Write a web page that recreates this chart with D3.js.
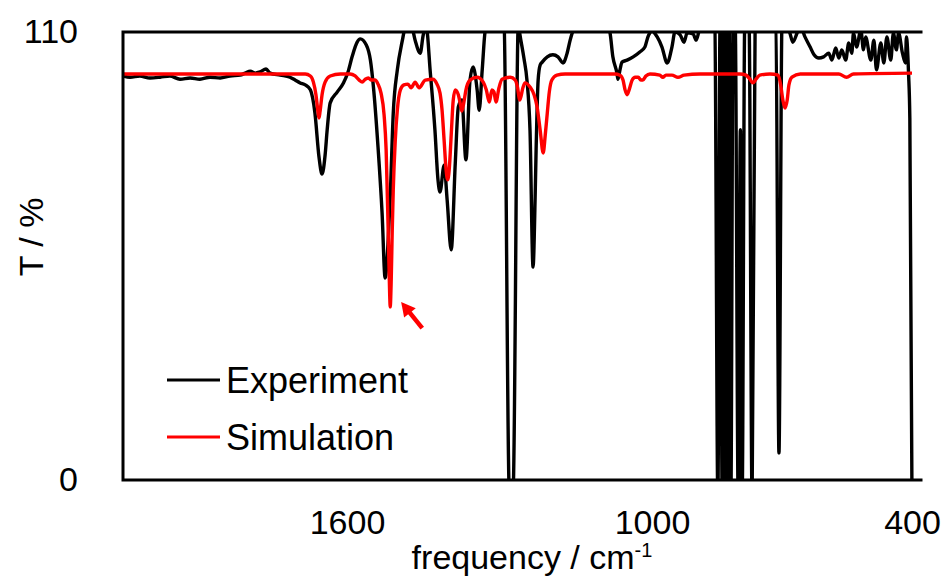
<!DOCTYPE html>
<html><head><meta charset="utf-8">
<script src="https://cdn.jsdelivr.net/npm/d3@7"></script>
<style>body{margin:0;background:#fff} svg{display:block} text{font-family:"Liberation Sans",Arial,sans-serif}</style>
</head><body><svg id="c" width="945" height="579"></svg>
<script>
// ---- data (frequency in cm-1, transmittance in %) ----
const expFreq = [2040,2026,2007,1987,1967,1948,1928,1908,1889,1869,1849,1830,1810,1800,1790,1780,1771,1759,1751,1731,1712,1702,1692,1682,1672,1663,1655,1649,1643,1639,1633,1619,1607,1598,1590,1580,1574,1562,1554,1548,1539,1531,1525,1519,1515,1509,1501,1491,1486,1476,1466,1456,1450,1444,1436,1427,1421,1417,1409,1403,1395,1387,1381,1374,1366,1358,1352,1344,1340,1334,1328,1318,1299,1291,1281,1277,1273,1263,1260,1252,1246,1240,1234,1230,1228,1224,1220,1216,1206,1195,1185,1175,1167,1161,1155,1141,1102,1083,1077,1069,1067,1063,1059,1049,1037,1024,1014,1008,1000,988,977,965,954,947,935,926,919,905,898,892,882,862,855,848,843,838,835,832,828,825,822,818,813,808,801,796,792,786,776,769,762,739,714,707,700,691,682,675,665,658,647,635,626,615,604,592,585,576,569,562,553,546,539,535,528,518,512,507,495,488,482,472,465,458,449,443,436,431,422,415,413,408,405,400];
const expT = [99.2,98.9,99.2,98.7,98.9,99.2,98.4,98.7,98.4,98.9,98.7,99.2,99.4,99.9,100.4,99.9,100.2,100.9,99.9,99.4,98.9,98.2,97.5,97.0,95.8,90.1,79.3,75.1,79.8,85.9,92.6,95.3,97.5,100.2,103.9,107.5,108.3,106.8,103.1,96.5,81.8,65.6,49.6,58.9,69.5,90.1,100.7,108.0,111,113,108.0,104.8,109.3,111,99.9,85.9,73.7,70.7,77.3,68.8,56.5,77.8,91.6,93.3,78.6,98.2,101.4,95.8,90.8,100.7,110.5,114,114,112,-2,-4,-2,112,109.5,103.6,98.2,85.9,52.3,68.8,81.0,98.2,101.9,102.6,103.9,104.4,103.9,102.4,104.8,108.0,110.5,114,114,110.0,103.9,99.9,98.4,100.7,102.6,103.1,103.9,105.1,106.3,108.8,110.2,108.8,106.3,102.4,106.3,110,109.3,107.5,109.8,109.5,108.0,110,113,113,112,-5,112,-5,112,-5,112,-5,112,-5,112,112,-5,86,-5,112,112,-5,112,113,112,6.6,112,111,109.8,107.5,109.8,111.5,108.8,106.3,104.4,103.6,103.9,104.8,103.1,106.1,103.6,105.6,103.1,107.3,104.8,109.8,106.3,110.5,105.6,108.8,103.1,108.0,100.7,107.3,102.4,108.8,103.1,109.8,105.6,109.8,104.8,102.4,108.8,99.9,88.9,-5];
const simFreq = [2040,1889,1712,1682,1672,1666,1661,1657,1655,1653,1649,1643,1633,1613,1594,1584,1576,1570,1564,1558,1552,1545,1539,1533,1527,1523,1519,1516,1515,1513,1511,1509,1505,1501,1495,1488,1480,1474,1466,1458,1446,1431,1423,1417,1413,1409,1405,1402,1399,1395,1391,1387,1381,1377,1374,1370,1366,1358,1344,1332,1326,1320,1315,1311,1307,1301,1295,1279,1269,1265,1260,1254,1250,1240,1232,1226,1220,1214,1210,1206,1202,1197,1187,1171,1102,1073,1063,1057,1053,1049,1045,1039,1033,1027,1022,1018,1012,1004,982,975,968,954,940,926,889,797,783,774,767,760,751,728,709,703,698,693,688,684,677,658,569,551,535,400];
const simT = [99.7,99.7,99.7,99.7,99.2,97.7,94.6,90.4,88.9,90.4,94.6,97.7,99.2,99.7,99.7,99.2,98.2,97.7,98.4,98.7,98.2,98.2,97.2,95.0,89.6,81.0,61.4,45.4,42.5,49.1,61.4,71.2,83.5,90.8,95.8,97.0,97.2,96.3,97.7,96.3,98.2,98.4,97.2,95.0,90.8,83.5,76.1,73.7,76.1,84.7,93.3,95.8,94.6,92.3,90.6,92.8,95.8,98.2,98.9,97.7,95.8,92.8,95.8,95.3,92.8,96.3,98.4,98.9,98.2,96.7,93.3,96.3,97.5,96.5,94.6,91.6,85.9,80.3,84.7,90.1,95.3,98.2,99.4,99.7,99.7,99.7,99.4,98.2,95.8,94.6,95.8,98.2,98.9,98.9,98.2,98.2,99.2,99.7,99.4,98.9,99.4,99.4,98.9,99.4,99.7,99.7,99.4,98.4,97.5,98.4,99.4,99.7,99.4,97.0,93.3,91.3,93.3,97.0,98.9,99.7,99.7,98.9,99.7,99.9];
const xTicks = [1600, 1000, 400];
const yTicks = [0, 110];
const seriesNames = ["Experiment", "Simulation"];
const seriesColors = ["#000000", "#ff0000"];
const arrowTail = [1452, 37.3];
const arrowTip = [1493.5, 43.7];

// ---- chart ----
const svg = d3.select('#c');
const x = d3.scaleLinear().domain([2040, 1600, 1000, 400, 377]).range([123, 347, 652, 912, 921]);
const y = d3.scaleLinear().domain([0, 110]).range([480, 32]);
const font = '"Liberation Sans", Arial, sans-serif';

svg.append('defs').append('clipPath').attr('id', 'plot')
  .append('rect').attr('x', x(2040)).attr('y', y(110))
  .attr('width', x(377) - x(2040)).attr('height', y(0) - y(110));

const line = d3.line().x(d => x(d[0])).y(d => y(d[1])).curve(d3.curveMonotoneX);
const exp = expFreq.map((f, i) => [f, expT[i]]);
const sim = simFreq.map((f, i) => [f, simT[i]]);

const g = svg.append('g').attr('clip-path', 'url(#plot)');
g.append('path').datum(exp).attr('d', line).attr('fill', 'none')
  .attr('stroke', seriesColors[0]).attr('stroke-width', 3.4).attr('stroke-linejoin', 'round');
g.append('path').datum(sim).attr('d', line).attr('fill', 'none')
  .attr('stroke', seriesColors[1]).attr('stroke-width', 3.4).attr('stroke-linejoin', 'round');

// frame (top, left, bottom)
svg.append('path')
  .attr('d', `M${x(377)},${y(110)}H${x(2040)}V${y(0)}H${x(377)}`)
  .attr('fill', 'none').attr('stroke', '#000').attr('stroke-width', 3).attr('stroke-linecap', 'square');

// axes
const gx = svg.append('g').attr('transform', `translate(0,${y(0)})`)
  .call(d3.axisBottom(x).tickValues(xTicks).tickSize(0).tickPadding(30).tickFormat(d3.format('d')));
gx.select('.domain').remove();
gx.attr('font-family', font).attr('font-size', 34);
gx.selectAll('text').attr('fill', '#000');

const gy = svg.append('g').attr('transform', `translate(${x(2040)},0)`)
  .call(d3.axisLeft(y).tickValues(yTicks).tickSize(0).tickPadding(45));
gy.select('.domain').remove();
gy.attr('font-family', font).attr('font-size', 34);
gy.selectAll('text').attr('fill', '#000');

// axis titles
const xt = svg.append('text').attr('x', 532).attr('y', 569).attr('text-anchor', 'middle')
  .attr('font-size', 34).attr('fill', '#000');
xt.append('tspan').text('frequency / cm');
xt.append('tspan').attr('font-size', 20).attr('dy', -12).text('-1');

svg.append('text').attr('transform', 'translate(43,237) rotate(-90)')
  .attr('text-anchor', 'middle').attr('font-size', 34).attr('fill', '#000').text('T / %');

// legend
const lg = svg.append('g');
seriesNames.forEach((n, i) => {
  const yy = 380 + i * 57;
  lg.append('line').attr('x1', 167).attr('x2', 220).attr('y1', yy).attr('y2', yy)
    .attr('stroke', seriesColors[i]).attr('stroke-width', 3);
  lg.append('text').attr('x', 226).attr('y', yy + 13).attr('font-size', 36).attr('fill', '#000').text(n);
});

// arrow annotation
const tx = x(arrowTip[0]), ty = y(arrowTip[1]);
const sx = x(arrowTail[0]), sy = y(arrowTail[1]);
const ang = Math.atan2(ty - sy, tx - sx);
const hl = 14, hw = 7.5;
const bx = tx - hl * Math.cos(ang), by = ty - hl * Math.sin(ang);
svg.append('line').attr('x1', sx).attr('y1', sy).attr('x2', bx + 2 * Math.cos(ang)).attr('y2', by + 2 * Math.sin(ang))
  .attr('stroke', '#ff0000').attr('stroke-width', 4.5);
svg.append('path').attr('d', `M${tx},${ty}L${bx - hw * Math.sin(ang)},${by + hw * Math.cos(ang)}L${bx + hw * Math.sin(ang)},${by - hw * Math.cos(ang)}Z`)
  .attr('fill', '#ff0000');
</script></body></html>
